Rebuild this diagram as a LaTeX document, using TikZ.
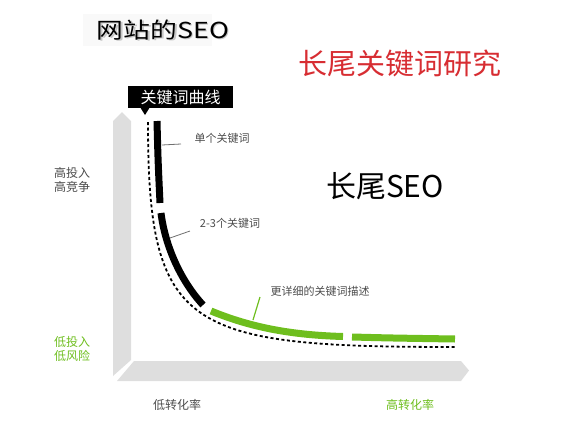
\documentclass[tikz,border=0pt]{standalone}
\usepackage{fontspec}
\setmainfont{Noto Sans CJK SC}
\usetikzlibrary{positioning}

\definecolor{seogreen}{RGB}{110,190,30}
\definecolor{seored}{RGB}{215,45,50}
\definecolor{axisgray}{RGB}{222,222,222}
\definecolor{labelgray}{RGB}{75,75,75}

\begin{document}
\begin{tikzpicture}[
  x=1pt, y=-1pt,
  axis/.style={fill=axisgray, draw=none},
  tag/.style={font=\fontsize{11}{13}\selectfont, text=labelgray, inner sep=1pt},
  side/.style={font=\fontsize{12}{13.5}\selectfont, align=center, inner sep=1pt},
  leader/.style={draw=labelgray!80, line width=0.8pt},
  curve/.style={line width=7pt},
  guide/.style={dash pattern=on 3pt off 2.5pt, line width=1.8pt}
]
\useasboundingbox (0,0) rectangle (582,426);

% -------------------------
% TITLES
% -------------------------

\fill[gray!5] (83,14) rectangle (212,46);
\node[text=gray!45, font=\fontsize{22}{24}\selectfont] at (164.5,31.5) {\scalebox{1.22}[1]{网站的SEO}};
\node[font=\fontsize{22}{24}\selectfont] (site) at (163,30) {\scalebox{1.22}[1]{网站的SEO}};
\node[text=seored, font=\fontsize{29}{31}\selectfont] (study) at (400,63) {长尾关键词研究};
\node[font=\fontsize{30}{32}\selectfont] (longtail) at (385,186) {长尾SEO};

% -------------------------
% AXES (3d bands)
% -------------------------

\fill[axis] (122,112) -- (131,121) -- (131,360) -- (113,376) -- (113,121) -- cycle;
\fill[axis] (134,361) -- (461,361) -- (469,370.5) -- (461,381) -- (117,381) -- cycle;

\node[side, text=labelgray] (highin) at (72,180) {高投入\\高竞争};
\node[side, text=seogreen] (lowin) at (72,349) {低投入\\低风险};
\node[side, text=labelgray] (lowconv) at (177,405) {低转化率};
\node[side, text=seogreen] (highconv) at (410,405) {高转化率};

% -------------------------
% CURVES
% -------------------------

% dashed guide under the bands
\draw[guide] (148,122) .. controls (148,330) and (185,347) .. (455,347);

% black part
\draw[curve] (157,121) .. controls (158,160) .. (160,203);
\draw[curve] (161,213) .. controls (165,245) and (180,280) .. (203,305);

% green part
\draw[curve, seogreen] (211,311) .. controls (250,327) and (290,335) .. (343,336.5);
\draw[curve, seogreen] (352,337) .. controls (390,338) .. (455,339);

% -------------------------
% LABELS
% -------------------------

\node[fill=black, text=white, font=\fontsize{16}{18}\selectfont,
  minimum width=105pt, minimum height=22pt, inner sep=0pt] (curvetag) at (180.5,97) {关键词曲线};
\fill (140,107) -- (150,107) -- (145,115) -- cycle;

\node[tag] (single) at (222,138) {单个关键词};
\node[tag] (multi) at (230,223) {2-3个关键词};
\node[tag] (detail) at (320,291) {更详细的关键词描述};

\coordinate (s1) at (162,145);
\coordinate (s2) at (181,144);
\coordinate (m1) at (170,238);
\coordinate (m2) at (190,231);
\coordinate (d1) at (253,320);
\coordinate (d2) at (260,297);

\draw[leader] (s1) -- (s2);
\draw[leader] (m1) -- (m2);
\draw[leader, draw=seogreen, line width=1.2pt] (d1) -- (d2);

\end{tikzpicture}
\end{document}
